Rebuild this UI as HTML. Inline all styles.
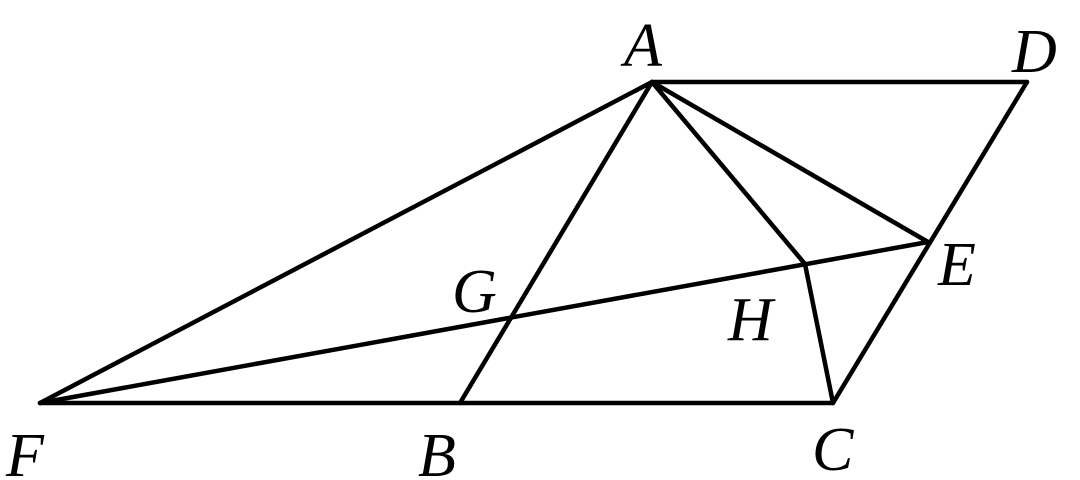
<!DOCTYPE html>
<html><head><style>body{margin:0;background:#fff}svg{display:block}</style></head><body>
<svg width="1080" height="480" viewBox="0 0 1080 480" xmlns="http://www.w3.org/2000/svg">
<g stroke="#000" stroke-width="4.5" fill="none" stroke-linejoin="round" stroke-linecap="round">
<line x1="652" y1="82" x2="1027" y2="82"/>
<line x1="1027" y1="82" x2="833" y2="403"/>
<line x1="40" y1="403" x2="833" y2="403"/>
<line x1="40" y1="403" x2="652" y2="82"/>
<line x1="652" y1="82" x2="460" y2="403"/>
<line x1="40" y1="403" x2="928" y2="242"/>
<line x1="652" y1="82" x2="805" y2="264"/>
<line x1="805" y1="264" x2="833" y2="403"/>
<line x1="652" y1="82" x2="928" y2="242"/>
</g>
<g font-family="Liberation Serif, serif" font-style="italic" font-size="62" fill="#000">
<text x="624" y="66">A</text>
<text x="1012" y="72">D</text>
<text x="938" y="285">E</text>
<text x="728" y="340">H</text>
<text x="452" y="312">G</text>
<text x="6" y="476">F</text>
<text x="418" y="476">B</text>
<text x="812" y="470">C</text>
</g>
</svg>
</body></html>
